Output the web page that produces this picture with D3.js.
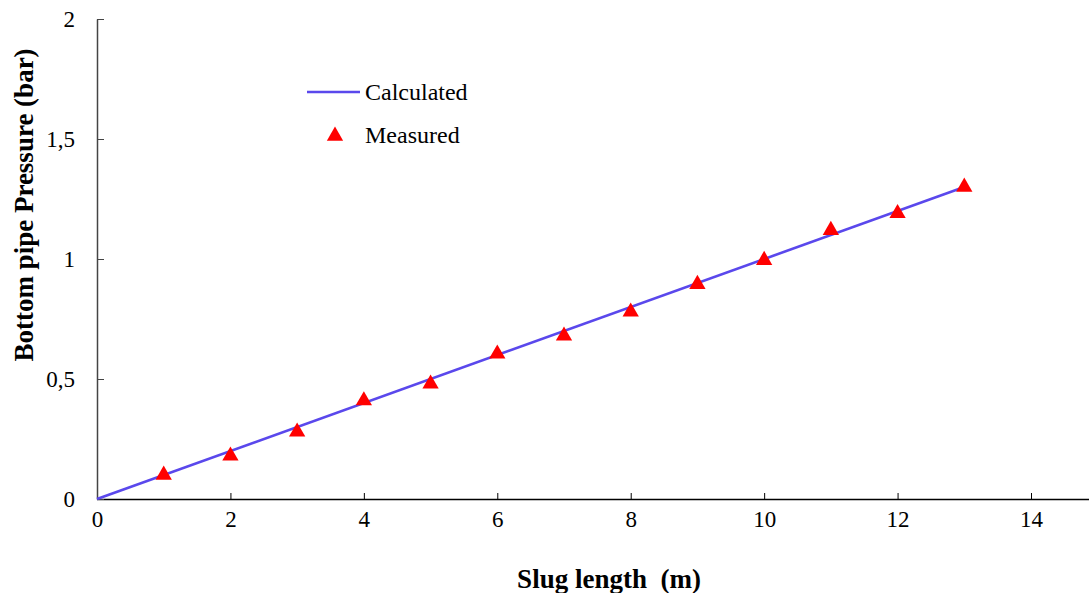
<!DOCTYPE html>
<html>
<head>
<meta charset="utf-8">
<script src="https://cdn.jsdelivr.net/npm/d3@7/dist/d3.min.js"></script>
</head>
<body style="margin:0;background:#fff">
<svg id="chart" width="1089" height="593" style="display:block"></svg>
<script>
// slug length (m) and measured pressure (bar)
const slugLength = [1, 2, 3, 4, 5, 6, 7, 8, 9, 10, 11, 12, 13];
const measured = [0.10, 0.18, 0.28, 0.41, 0.48, 0.605, 0.68, 0.78, 0.895, 0.995, 1.12, 1.19, 1.30];
// calculated line
const calcX = [0, 13];
const calcY = [0, 1.3];
const xTicks = [0, 2, 4, 6, 8, 10, 12, 14];
const yTicks = [0, 0.5, 1, 1.5, 2];

const FONT = '"Liberation Serif"';
const svg = d3.select('#chart');
const x = d3.scaleLinear().domain([0, 14]).range([97, 1031]);
const y = d3.scaleLinear().domain([0, 2]).range([499, 19]);
const fmt = d => String(d).replace('.', ',');

// x axis (extends to right edge)
const xAxis = d3.axisBottom(x).tickValues(xTicks).tickSizeInner(-6).tickSizeOuter(0).tickPadding(12).tickFormat(fmt);
const gx = svg.append('g').attr('transform', 'translate(0,499)').call(xAxis);
gx.select('.domain').remove();
gx.append('line').attr('x1', 97).attr('x2', 1089).attr('y1', 0.5).attr('y2', 0.5)
  .attr('stroke', '#000').attr('stroke-width', 1.5);
gx.selectAll('.tick line').attr('stroke', '#000');
gx.selectAll('.tick text').attr('fill', '#000').style('font-size', '23px').style('font-family', FONT);

const yAxis = d3.axisLeft(y).tickValues(yTicks).tickSizeInner(-7).tickSizeOuter(0).tickPadding(22).tickFormat(fmt);
const gy = svg.append('g').attr('transform', 'translate(97,0)').call(yAxis);
gy.select('.domain').attr('stroke', '#444').attr('stroke-width', 1.5);
gy.selectAll('.tick line').attr('stroke', '#444');
gy.selectAll('.tick text').attr('fill', '#000').style('font-size', '23px').style('font-family', FONT);

// calculated line
const line = d3.line().x(d => x(d[0])).y(d => y(d[1]));
svg.append('path').datum(d3.zip(calcX, calcY)).attr('d', line)
  .attr('fill', 'none').attr('stroke', '#5a48ec').attr('stroke-width', 2.6);

// measured points
const tri = d3.symbol().type(d3.symbolTriangle).size(115);
svg.append('g').selectAll('path').data(d3.zip(slugLength, measured)).enter()
  .append('path').attr('d', tri)
  .attr('transform', d => `translate(${x(d[0])},${y(d[1])})`)
  .attr('fill', '#ff0000');

// legend
const lg = svg.append('g');
lg.append('line').attr('x1', 307).attr('x2', 360).attr('y1', 92).attr('y2', 92)
  .attr('stroke', '#5a48ec').attr('stroke-width', 2.6);
lg.append('text').attr('x', 365).attr('y', 100).text('Calculated')
  .style('font-size', '24px').style('font-family', FONT);
lg.append('path').attr('d', tri).attr('transform', 'translate(335,136)').attr('fill', '#ff0000');
lg.append('text').attr('x', 365).attr('y', 143).text('Measured')
  .style('font-size', '24px').style('font-family', FONT);

// axis titles
svg.append('text').attr('x', 609).attr('y', 588).attr('text-anchor', 'middle')
  .style('font-size', '27px').style('font-weight', 'bold').style('font-family', FONT)
  .text('Slug length\u00a0\u00a0(m)');
svg.append('text').attr('transform', 'translate(33,205) rotate(-90)').attr('text-anchor', 'middle')
  .style('font-size', '27px').style('font-weight', 'bold').style('font-family', FONT)
  .text('Bottom pipe Pressure (bar)');
</script>
</body>
</html>
